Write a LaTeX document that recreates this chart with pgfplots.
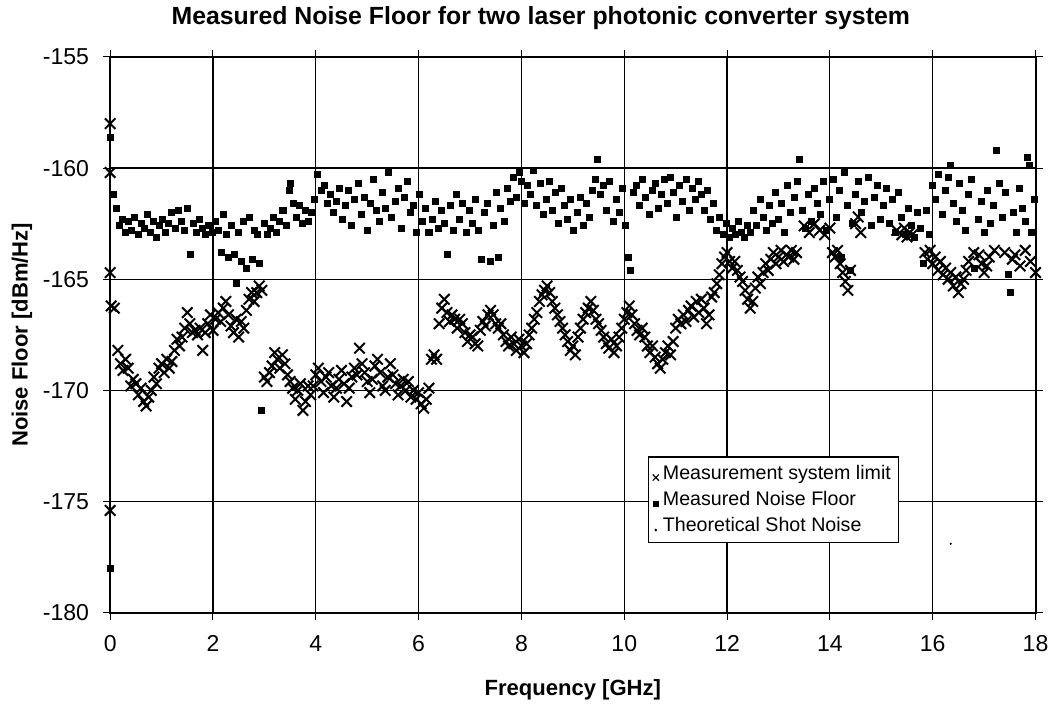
\documentclass[border=0pt]{standalone}
\usepackage{fontspec}
\setmainfont{Liberation Sans}
\usepackage{pgfplots}
\pgfplotsset{compat=1.18}
\begin{document}
\begin{tikzpicture}
\begin{axis}[
  scale only axis,
  width=462pt, height=277.5pt,
  xmin=0, xmax=18, ymin=-180, ymax=-155,
  xtick={0,2,...,18}, ytick={-180,-175,...,-155},
  grid=major,
  major grid style={black, line width=0.6pt},
  axis line style={black, line width=1pt},
  tick align=outside, major tick length=3.5pt,
  tick style={black, line width=0.5pt},
  /pgf/number format/assume math mode=true,
  tick label style={font=\fontsize{11.5}{13}\selectfont},
  xticklabel style={yshift=-4.5pt},
  yticklabel style={xshift=-3.5pt},
  title={Measured Noise Floor for two laser photonic converter system},
  title style={font=\fontsize{12.4}{14}\selectfont\bfseries, yshift=4pt, xshift=-16pt},
  xlabel={Frequency [GHz]},
  ylabel={Noise Floor [dBm/Hz]},
  label style={font=\fontsize{11}{13}\selectfont\bfseries},
  xlabel style={yshift=-7pt},
  ylabel style={yshift=-1.5pt},
  legend style={at={(0.853,0.125)}, anchor=south east, draw=black, line width=0.6pt,
    font=\fontsize{9.8}{12}\selectfont, fill=white, inner sep=2pt, row sep=0.5pt,
    legend cell align=left},
  legend image code/.code={\draw[#1] (0pt,-2pt) plot coordinates {(0pt,-2pt)};},
]
\addplot[only marks, mark=x, mark size=3.7pt, black, line width=1pt, mark options={line width=1pt},
  legend image post style={mark size=2.2pt, mark options={line width=0.6pt}}] coordinates {
(0,-158.0) (0,-160.2) (0,-164.7) (0.02,-166.2) (0,-175.4) (0.08,-166.3)
(0.15,-168.2) (0.2,-168.8) (0.25,-169.1) (0.3,-168.6) (0.35,-169.0) (0.4,-169.8)
(0.45,-169.5) (0.5,-169.7) (0.55,-170.2) (0.6,-169.9) (0.65,-170.5) (0.7,-170.7)
(0.75,-170.3) (0.8,-170.0) (0.85,-169.4) (0.9,-169.7) (0.95,-169.0) (1.0,-168.8)
(1.05,-169.2) (1.1,-168.6) (1.15,-169.0) (1.2,-168.7) (1.25,-168.2) (1.3,-167.7)
(1.35,-168.0) (1.4,-167.6) (1.45,-167.2) (1.5,-166.5) (1.55,-167.0) (1.6,-167.4)
(1.65,-167.3) (1.7,-167.5) (1.75,-167.2) (1.8,-168.2) (1.85,-167.4) (1.9,-167.0)
(1.95,-166.6) (2.0,-167.3) (2.05,-166.8) (2.1,-166.5) (2.15,-166.9) (2.2,-166.3)
(2.25,-166.0) (2.3,-166.6) (2.35,-167.1) (2.4,-167.4) (2.45,-166.8) (2.5,-167.6)
(2.55,-166.9) (2.6,-167.2) (2.65,-166.4) (2.7,-165.9) (2.75,-165.6) (2.8,-166.0)
(2.85,-165.6) (2.9,-165.3) (2.95,-165.5) (3.0,-169.4) (3.05,-169.6) (3.1,-169.2)
(3.15,-168.9) (3.2,-168.3) (3.25,-168.6) (3.3,-169.0) (3.35,-168.4) (3.4,-168.8)
(3.45,-169.3) (3.5,-169.6) (3.55,-169.9) (3.6,-170.4) (3.65,-170.0) (3.7,-169.7)
(3.75,-170.9) (3.8,-170.5) (3.85,-169.8) (3.9,-170.2) (3.95,-169.8) (4.0,-169.3)
(4.05,-169.0) (4.1,-169.6) (4.15,-170.1) (4.2,-169.4) (4.25,-169.2) (4.3,-169.8)
(4.35,-170.3) (4.4,-169.9) (4.45,-169.5) (4.5,-169.1) (4.55,-169.7) (4.6,-170.5)
(4.65,-169.9) (4.7,-169.4) (4.75,-169.0) (4.8,-169.3) (4.85,-168.1) (4.9,-168.8)
(4.95,-169.2) (5.0,-169.6) (5.05,-170.1) (5.1,-169.5) (5.15,-168.9) (5.2,-168.6)
(5.25,-169.2) (5.3,-169.8) (5.35,-170.0) (5.4,-169.4) (5.45,-168.8) (5.5,-169.3)
(5.55,-169.7) (5.6,-170.2) (5.65,-169.8) (5.7,-169.5) (5.75,-170.0) (5.8,-169.6)
(5.85,-170.3) (5.9,-170.0) (5.95,-170.4) (6.0,-170.1) (6.05,-170.6) (6.1,-170.8)
(6.15,-170.4) (6.2,-169.9) (6.25,-168.6) (6.3,-168.4) (6.35,-168.6) (6.4,-167.0)
(6.45,-166.3) (6.5,-165.9) (6.55,-166.5) (6.6,-166.9) (6.65,-166.6) (6.7,-166.8)
(6.75,-167.2) (6.8,-166.8) (6.85,-167.0) (6.9,-167.4) (6.95,-167.8) (7.0,-167.5)
(7.05,-167.6) (7.1,-167.9) (7.15,-168.0) (7.2,-167.3) (7.25,-166.9) (7.3,-167.1)
(7.35,-166.6) (7.4,-166.4) (7.45,-166.6) (7.5,-167.0) (7.55,-167.2) (7.6,-167.0)
(7.65,-167.5) (7.7,-167.8) (7.75,-168.0) (7.8,-167.6) (7.85,-167.9) (7.9,-168.2)
(7.95,-167.7) (8.0,-168.0) (8.05,-168.3) (8.1,-167.9) (8.15,-167.5) (8.2,-167.2)
(8.25,-166.8) (8.3,-166.5) (8.35,-166.0) (8.4,-165.7) (8.45,-165.5) (8.5,-165.3)
(8.55,-165.6) (8.6,-166.0) (8.65,-166.3) (8.7,-166.6) (8.75,-166.9) (8.8,-167.2)
(8.85,-167.5) (8.9,-167.8) (8.95,-168.2) (9.0,-168.0) (9.05,-168.4) (9.1,-167.6)
(9.15,-167.2) (9.2,-166.8) (9.25,-166.5) (9.3,-166.3) (9.35,-166.0) (9.4,-166.4)
(9.45,-166.8) (9.5,-167.0) (9.55,-167.3) (9.6,-167.6) (9.65,-167.9) (9.7,-168.1)
(9.75,-167.7) (9.8,-168.3) (9.85,-168.0) (9.9,-167.6) (9.95,-167.2) (10.0,-166.8)
(10.05,-166.5) (10.1,-166.2) (10.15,-166.6) (10.2,-167.0) (10.25,-167.3) (10.3,-167.5)
(10.35,-167.2) (10.4,-167.6) (10.45,-168.0) (10.5,-168.3) (10.55,-168.0) (10.6,-168.5)
(10.65,-168.8) (10.7,-169.0) (10.75,-168.6) (10.8,-168.3) (10.85,-168.0) (10.9,-168.4)
(10.95,-167.8) (11.0,-167.2) (11.05,-166.8) (11.1,-167.0) (11.15,-166.6) (11.2,-166.9)
(11.25,-166.4) (11.3,-166.2) (11.35,-166.7) (11.4,-166.0) (11.45,-166.5) (11.5,-165.9)
(11.55,-166.3) (11.6,-167.0) (11.65,-166.6) (11.7,-165.8) (11.75,-165.6) (11.8,-165.2)
(11.85,-164.8) (11.9,-164.3) (11.95,-164.0) (12.0,-163.8) (12.05,-164.2) (12.1,-164.5)
(12.15,-164.2) (12.2,-164.6) (12.25,-164.9) (12.3,-165.1) (12.35,-165.5) (12.4,-165.9)
(12.45,-166.3) (12.5,-166.0) (12.55,-165.4) (12.6,-164.9) (12.65,-165.2) (12.7,-164.7)
(12.75,-164.3) (12.8,-164.6) (12.85,-164.1) (12.9,-163.8) (12.95,-164.3) (13.0,-164.0)
(13.05,-163.7) (13.1,-164.2) (13.15,-163.9) (13.2,-164.0) (13.25,-163.7) (13.3,-164.1)
(13.35,-163.8) (13.5,-162.6) (13.6,-162.9) (13.7,-162.5) (13.8,-162.8) (13.9,-163.0)
(14.0,-162.7) (14.05,-163.8) (14.1,-164.0) (14.15,-163.7) (14.2,-164.3) (14.25,-164.7)
(14.3,-165.1) (14.35,-165.5) (14.4,-164.6) (14.5,-162.5) (14.55,-162.2) (14.6,-162.9)
(15.3,-162.8) (15.4,-163.0) (15.45,-162.7) (15.5,-163.1) (15.55,-162.9) (15.6,-163.0)
(15.85,-163.8) (15.9,-164.1) (15.95,-163.7) (16.0,-164.3) (16.05,-164.0) (16.1,-164.6)
(16.15,-164.2) (16.2,-164.8) (16.25,-164.5) (16.3,-165.0) (16.35,-164.7) (16.4,-165.3)
(16.45,-164.9) (16.5,-165.6) (16.55,-165.2) (16.6,-165.0) (16.65,-164.6) (16.7,-164.2)
(16.8,-163.8) (16.9,-163.9) (16.95,-164.3) (17.0,-164.7) (17.05,-164.4) (17.1,-164.0)
(17.2,-163.7) (17.4,-163.8) (17.55,-164.1) (17.6,-163.9) (17.7,-164.4) (17.8,-163.7)
(17.9,-164.2) (18.0,-164.7)
};
\addlegendentry{Measurement system limit}
\addplot[only marks, mark=square*, mark size=1.5pt, black,
  legend image post style={mark size=1.2pt}] coordinates {
(0,-158.6) (0,-178.0) (0.07,-161.2) (0.12,-161.8) (0.18,-162.6) (0.24,-162.3)
(0.3,-162.9) (0.36,-162.4) (0.42,-162.8) (0.48,-162.2) (0.54,-163.0) (0.6,-162.5)
(0.66,-162.7) (0.72,-162.1) (0.78,-162.9) (0.84,-162.4) (0.9,-163.1) (0.96,-162.6)
(1.02,-162.3) (1.08,-162.9) (1.14,-162.5) (1.2,-162.0) (1.26,-162.7) (1.32,-161.9)
(1.38,-162.4) (1.44,-162.8) (1.5,-161.8) (1.56,-163.9) (1.62,-162.5) (1.68,-162.9)
(1.74,-162.3) (1.8,-162.7) (1.86,-163.0) (1.92,-162.6) (1.98,-162.9) (2.04,-162.4)
(2.1,-162.8) (2.16,-163.8) (2.2,-162.1) (2.26,-163.0) (2.3,-164.0) (2.36,-162.6)
(2.42,-163.9) (2.46,-165.2) (2.5,-162.9) (2.55,-164.2) (2.6,-162.4) (2.65,-164.5)
(2.7,-162.2) (2.76,-164.1) (2.8,-162.8) (2.86,-163.0) (2.9,-164.3) (2.95,-170.9)
(3.0,-162.5) (3.06,-163.0) (3.12,-162.7) (3.18,-162.2) (3.24,-162.9) (3.3,-162.4)
(3.36,-161.9) (3.42,-162.6) (3.48,-161.0) (3.5,-160.7) (3.56,-161.6) (3.62,-162.2)
(3.68,-161.7) (3.74,-162.5) (3.8,-161.9) (3.86,-162.4) (3.92,-162.0) (3.98,-161.4)
(4.04,-160.3) (4.1,-161.0) (4.16,-160.8) (4.22,-161.6) (4.28,-161.2) (4.34,-162.0)
(4.4,-161.5) (4.46,-160.9) (4.52,-162.3) (4.58,-161.7) (4.64,-161.0) (4.7,-162.6)
(4.76,-161.4) (4.82,-160.7) (4.88,-162.1) (4.94,-161.3) (5.0,-162.8) (5.06,-161.6)
(5.12,-160.5) (5.18,-161.9) (5.24,-162.4) (5.3,-161.1) (5.36,-161.8) (5.42,-160.2)
(5.48,-162.2) (5.54,-161.5) (5.6,-160.9) (5.66,-162.7) (5.72,-161.3) (5.78,-160.6)
(5.84,-162.0) (5.9,-161.7) (5.96,-162.9) (6.02,-161.2) (6.08,-162.4) (6.14,-161.8)
(6.2,-162.9) (6.26,-162.3) (6.32,-161.5) (6.38,-162.7) (6.44,-161.9) (6.5,-162.5)
(6.56,-163.9) (6.62,-161.7) (6.68,-162.8) (6.74,-161.2) (6.8,-162.3) (6.86,-161.6)
(6.92,-162.9) (6.98,-161.9) (7.04,-162.5) (7.1,-161.4) (7.16,-162.8) (7.22,-164.1)
(7.28,-162.0) (7.34,-161.6) (7.4,-164.2) (7.46,-162.6) (7.52,-161.1) (7.56,-164.0)
(7.6,-161.8) (7.66,-162.4) (7.72,-160.9) (7.78,-161.5) (7.84,-160.4) (7.9,-161.3)
(7.96,-160.2) (8.0,-160.6) (8.06,-161.6) (8.12,-160.8) (8.18,-161.2) (8.24,-160.1)
(8.3,-161.7) (8.36,-160.7) (8.42,-162.1) (8.48,-161.4) (8.54,-160.6) (8.6,-161.9)
(8.66,-161.1) (8.72,-162.5) (8.78,-160.9) (8.84,-161.7) (8.9,-162.3) (8.96,-161.4)
(9.02,-162.8) (9.08,-162.0) (9.14,-161.3) (9.2,-162.6) (9.26,-161.6) (9.32,-162.2)
(9.38,-161.0) (9.44,-160.5) (9.48,-159.6) (9.54,-161.2) (9.6,-160.8) (9.66,-161.9)
(9.72,-160.6) (9.78,-162.4) (9.84,-161.4) (9.9,-162.0) (9.96,-160.9) (10.02,-162.6)
(10.08,-164.0) (10.12,-164.6) (10.18,-161.1) (10.24,-160.8) (10.3,-161.7) (10.36,-160.5)
(10.42,-161.3) (10.48,-162.1) (10.54,-161.0) (10.6,-160.7) (10.66,-161.8) (10.72,-161.2)
(10.78,-160.5) (10.84,-161.6) (10.9,-160.4) (10.96,-161.1) (11.02,-162.2) (11.08,-160.8)
(11.14,-161.5) (11.2,-160.5) (11.26,-161.9) (11.32,-160.9) (11.38,-161.4) (11.44,-160.6)
(11.5,-161.2) (11.56,-161.9) (11.62,-161.0) (11.68,-162.3) (11.74,-161.6) (11.8,-162.8)
(11.86,-162.2) (11.92,-163.0) (11.98,-162.5) (12.04,-163.1) (12.1,-162.7) (12.16,-163.0)
(12.22,-162.4) (12.28,-162.9) (12.34,-163.1) (12.4,-162.6) (12.46,-162.9) (12.52,-161.9)
(12.58,-162.6) (12.64,-161.4) (12.7,-162.2) (12.76,-162.8) (12.82,-161.7) (12.88,-162.5)
(12.94,-161.1) (13.0,-162.3) (13.06,-161.6) (13.12,-162.9) (13.18,-160.8) (13.24,-162.0)
(13.3,-161.3) (13.36,-160.6) (13.4,-159.6) (13.46,-161.9) (13.52,-162.7) (13.58,-161.2)
(13.64,-162.4) (13.7,-160.9) (13.76,-161.6) (13.82,-162.1) (13.88,-160.6) (13.94,-162.8)
(14.0,-161.4) (14.06,-160.5) (14.12,-162.2) (14.18,-161.0) (14.22,-164.0) (14.28,-160.2)
(14.34,-161.7) (14.4,-164.6) (14.44,-162.5) (14.5,-161.2) (14.56,-160.6) (14.62,-162.0)
(14.68,-161.5) (14.74,-160.4) (14.8,-162.6) (14.86,-161.3) (14.92,-160.8) (14.98,-162.3)
(15.04,-161.7) (15.1,-160.9) (15.16,-162.5) (15.22,-161.4) (15.28,-162.9) (15.34,-161.1)
(15.4,-162.2) (15.46,-163.0) (15.52,-161.8) (15.58,-162.6) (15.64,-163.1) (15.7,-162.0)
(15.76,-162.7) (15.82,-164.3) (15.88,-161.9) (15.94,-163.0) (16.0,-160.8) (16.06,-161.4)
(16.12,-160.3) (16.18,-162.1) (16.24,-161.0) (16.3,-160.4) (16.35,-159.9) (16.4,-161.6)
(16.46,-162.4) (16.52,-160.7) (16.58,-161.9) (16.64,-162.8) (16.7,-161.2) (16.76,-160.5)
(16.82,-164.5) (16.88,-162.3) (16.94,-161.5) (17.0,-162.9) (17.06,-161.0) (17.12,-162.5)
(17.18,-161.7) (17.24,-159.2) (17.3,-160.7) (17.36,-162.2) (17.42,-161.1) (17.48,-164.8)
(17.52,-165.6) (17.56,-162.0) (17.62,-162.9) (17.68,-160.9) (17.74,-161.8) (17.8,-162.4)
(17.84,-159.5) (17.88,-159.9) (17.92,-162.9) (17.98,-161.4)
};
\addlegendentry{Measured Noise Floor}
\addplot[only marks, mark=*, mark size=0.3pt, black] coordinates {(16.35,-176.9)};
\addlegendentry{Theoretical Shot Noise}
\end{axis}
\path ([xshift=-2.5pt]current bounding box.west);
\end{tikzpicture}
\end{document}
